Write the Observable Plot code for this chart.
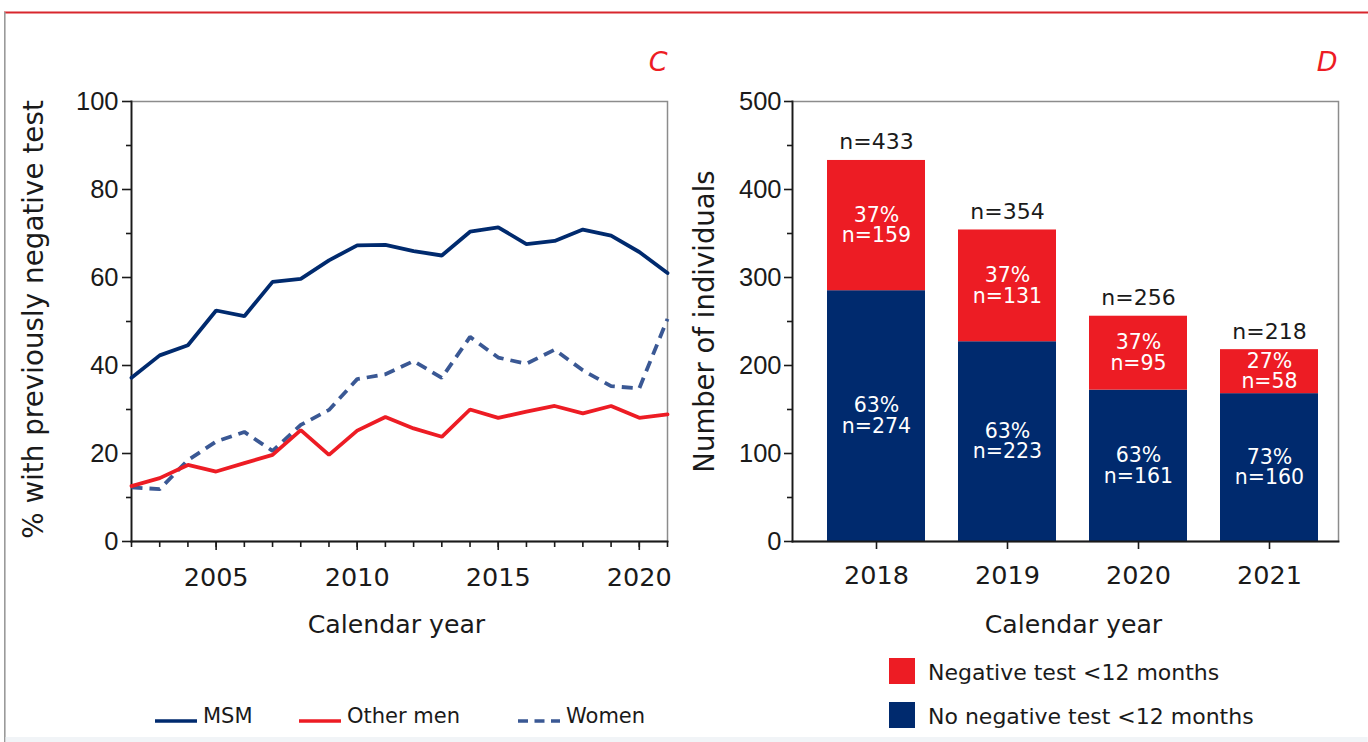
<!DOCTYPE html>
<html>
<head>
<meta charset="utf-8">
<script src="https://cdn.jsdelivr.net/npm/d3@7"></script>
<script src="https://cdn.jsdelivr.net/npm/@observablehq/plot@0.6"></script>
<style>
  html, body { margin: 0; padding: 0; background: #fff; }
  #wrap { position: relative; width: 1368px; height: 742px; overflow: hidden; background: #fff; font-family: "DejaVu Sans", sans-serif; }
  #wrap > svg { position: absolute; top: 0; }
</style>
</head>
<body>
<div id="wrap"></div>
<script>
// ---------- Panel C data ----------
const years = [2002, 2003, 2004, 2005, 2006, 2007, 2008, 2009, 2010, 2011,
               2012, 2013, 2014, 2015, 2016, 2017, 2018, 2019, 2020, 2021];
const msm      = [37.2, 42.3, 44.6, 52.5, 51.2, 59.0, 59.7, 63.9, 67.3, 67.4,
                  66.0, 65.0, 70.4, 71.4, 67.6, 68.3, 70.9, 69.5, 65.8, 61.0];
const otherMen = [12.6, 14.4, 17.4, 15.9, 17.8, 19.7, 25.3, 19.7, 25.2, 28.3,
                  25.7, 23.8, 30.0, 28.1, 29.5, 30.8, 29.1, 30.8, 28.1, 28.9];
const women    = [12.3, 11.9, 18.5, 22.7, 24.9, 20.6, 26.5, 29.9, 36.9, 38.0,
                  41.0, 37.2, 46.5, 41.8, 40.4, 43.6, 38.9, 35.3, 34.8, 50.6];
const yTicksC = [0, 20, 40, 60, 80, 100];
const yMinorC = [10, 30, 50, 70, 90];
const xTicksC = [2005, 2010, 2015, 2020];
const seriesNames = ["MSM", "Other men", "Women"];

// ---------- Panel D data ----------
const barYears = ["2018", "2019", "2020", "2021"];
const negN   = [159, 131, 95, 58];       // labelled counts
const noneN  = [274, 223, 161, 160];     // labelled counts
const totalN = [433, 354, 256, 218];     // bar totals
const negPct  = [37, 37, 37, 27];
const nonePct = [63, 63, 63, 73];
// height of the blue segment as drawn in the picture
const noneDrawn = [285, 227, 172, 168];
const groups = ["Negative test <12 months", "No negative test <12 months"];
const yTicksD = [0, 100, 200, 300, 400, 500];
const yMinorD = [50, 150, 250, 350, 450];

const panelLetters = ["C", "D"];
const yTitleC = "% with previously negative test";
const yTitleD = "Number of individuals";
const xTitle = "Calendar year";

// ---------- colours ----------
const RED = "#ED1C24";
const NAVY = "#002A6E";
const WOMEN = "#3A5894";
const INK = "#1a1a1a";

const wrap = document.getElementById("wrap");

// ---------- Panel C ----------
const lineX = (d, i) => years[i];
const lineY = d => d;
const left = Plot.plot({
  width: 690, height: 742,
  marginLeft: 131, marginRight: 23, marginTop: 101, marginBottom: 201,
  style: { background: "transparent", color: INK, overflow: "visible" },
  x: { domain: [2002, 2021] },
  y: { domain: [0, 100] },
  marks: [
    Plot.frame({ stroke: "#8c8c8c", strokeWidth: 1.5 }),
    Plot.frame({ anchor: "left", stroke: INK, strokeWidth: 1.8 }),
    Plot.frame({ anchor: "bottom", stroke: INK, strokeWidth: 1.8 }),
    Plot.axisY({ ticks: yMinorC, tickSize: 5, tickFormat: () => "", label: null, strokeWidth: 1.6 }),
    Plot.axisY({ ticks: yTicksC, tickSize: 9, tickPadding: 4, label: null, strokeWidth: 1.6,
                 fontSize: 25.5, fontFamily: "Liberation Sans", fill: INK }),
    Plot.axisX({ ticks: years, tickSize: 6, tickFormat: () => "", label: null, strokeWidth: 1.6 }),
    Plot.axisX({ ticks: xTicksC, tickSize: 9, tickPadding: 17, tickFormat: "d", label: null, strokeWidth: 1.6,
                 fontSize: 25.5, fontFamily: "DejaVu Sans", fill: INK }),
    Plot.line(women, { x: lineX, y: lineY, stroke: WOMEN, strokeWidth: 3.8,
                       strokeDasharray: "11,7", strokeLinecap: "butt", strokeLinejoin: "miter" }),
    Plot.line(otherMen, { x: lineX, y: lineY, stroke: RED, strokeWidth: 3.8, strokeLinejoin: "miter" }),
    Plot.line(msm, { x: lineX, y: lineY, stroke: NAVY, strokeWidth: 3.8, strokeLinejoin: "miter" }),
    Plot.text([yTitleC], { frameAnchor: "left", rotate: -90, dx: -97, dy: -2, textAnchor: "middle", lineAnchor: "middle",
                           fontSize: 27.8, fontFamily: "DejaVu Sans", fill: INK }),
    Plot.text([xTitle], { frameAnchor: "bottom", dy: 91, dx: -3, lineAnchor: "bottom", textAnchor: "middle",
                          fontSize: 25.2, fontFamily: "DejaVu Sans", fill: INK }),
    Plot.text([panelLetters[0]], { frameAnchor: "top-right", dy: -31, dx: 0, lineAnchor: "bottom", textAnchor: "end",
                                   fontSize: 27, fontStyle: "italic", fontFamily: "DejaVu Sans", fill: RED })
  ]
});
left.style.left = "0px";
wrap.appendChild(left);

// ---------- Panel D ----------
const rows = [];
barYears.forEach((yr, i) => {
  rows.push({ year: yr, group: groups[1], y1: 0, y2: noneDrawn[i], label: `${nonePct[i]}%\nn=${noneN[i]}` });
  rows.push({ year: yr, group: groups[0], y1: noneDrawn[i], y2: totalN[i], label: `${negPct[i]}%\nn=${negN[i]}` });
});

const right = Plot.plot({
  width: 678, height: 742,
  marginLeft: 102, marginRight: 30, marginTop: 101, marginBottom: 201,
  style: { background: "transparent", color: INK, overflow: "visible" },
  x: { domain: barYears, range: [136, 630], paddingInner: 0.25, paddingOuter: 0 },
  y: { domain: [0, 500] },
  color: { domain: groups, range: [RED, NAVY] },
  marks: [
    Plot.frame({ stroke: "#8c8c8c", strokeWidth: 1.5 }),
    Plot.barY(rows, { x: "year", y1: "y1", y2: "y2", fill: "group" }),
    Plot.frame({ anchor: "left", stroke: INK, strokeWidth: 1.8 }),
    Plot.frame({ anchor: "bottom", stroke: INK, strokeWidth: 1.8 }),
    Plot.axisY({ ticks: yMinorD, tickSize: 5, tickFormat: () => "", label: null, strokeWidth: 1.6 }),
    Plot.axisY({ ticks: yTicksD, tickSize: 8, tickPadding: 3, label: null, strokeWidth: 1.6,
                 fontSize: 25.5, fontFamily: "Liberation Sans", fill: INK }),
    Plot.axisX({ tickSize: 8, tickPadding: 16, label: null, strokeWidth: 1.6,
                 fontSize: 25.5, fontFamily: "DejaVu Sans", fill: INK }),
    Plot.text(rows, { x: "year", y: d => (d.y1 + d.y2) / 2, text: "label", fill: "white",
                      fontSize: 20.5, fontFamily: "DejaVu Sans", lineHeight: 1, lineAnchor: "middle" }),
    Plot.text(totalN, { x: (d, i) => barYears[i], y: d => d, text: d => `n=${d}`, dy: -11, lineAnchor: "bottom",
                        fontSize: 22, fontFamily: "DejaVu Sans", fill: INK }),
    Plot.text([yTitleD], { frameAnchor: "left", rotate: -90, dx: -87, textAnchor: "middle", lineAnchor: "middle",
                           fontSize: 27.5, fontFamily: "DejaVu Sans", fill: INK }),
    Plot.text([xTitle], { frameAnchor: "bottom", dy: 91, dx: 8, lineAnchor: "bottom", textAnchor: "middle",
                          fontSize: 25.2, fontFamily: "DejaVu Sans", fill: INK }),
    Plot.text([panelLetters[1]], { frameAnchor: "top-right", dy: -31, dx: -1, lineAnchor: "bottom", textAnchor: "end",
                                   fontSize: 27, fontStyle: "italic", fontFamily: "DejaVu Sans", fill: RED })
  ]
});
right.style.left = "690px";
wrap.appendChild(right);

// ---------- overlay: figure border and legends ----------
const ov = d3.create("svg").attr("width", 1368).attr("height", 742)
  .style("left", "0px").style("pointer-events", "none");
ov.append("rect").attr("x", 4).attr("y", 11.5).attr("width", 1364).attr("height", 2).attr("fill", "#d8262d");
ov.append("rect").attr("x", 4).attr("y", 12).attr("width", 1.6).attr("height", 730).attr("fill", "#9a9a9a");
ov.append("rect").attr("x", 5.6).attr("y", 737).attr("width", 1362).attr("height", 5).attr("fill", "#f1f4f7");

// line legend (panel C)
const lineLegend = [
  { name: seriesNames[0], color: NAVY, dash: null, x: 155 },
  { name: seriesNames[1], color: RED, dash: null, x: 299 },
  { name: seriesNames[2], color: WOMEN, dash: "10,6.5", x: 518 }
];
const lg = ov.append("g");
lineLegend.forEach(d => {
  lg.append("line").attr("x1", d.x).attr("x2", d.x + 42).attr("y1", 721).attr("y2", 721)
    .attr("stroke", d.color).attr("stroke-width", 3.6).attr("stroke-dasharray", d.dash);
  lg.append("text").attr("x", d.x + 48).attr("y", 723).text(d.name)
    .attr("font-family", "DejaVu Sans").attr("font-size", 21).attr("fill", INK);
});

// swatch legend (panel D)
const boxLegend = [
  { name: groups[0], color: RED, y: 658 },
  { name: groups[1], color: NAVY, y: 702 }
];
boxLegend.forEach(d => {
  lg.append("rect").attr("x", 889).attr("y", d.y).attr("width", 26).attr("height", 26).attr("fill", d.color);
  lg.append("text").attr("x", 928).attr("y", d.y + 22).text(d.name)
    .attr("font-family", "DejaVu Sans").attr("font-size", 22).attr("fill", INK);
});
wrap.appendChild(ov.node());
</script>
</body>
</html>
